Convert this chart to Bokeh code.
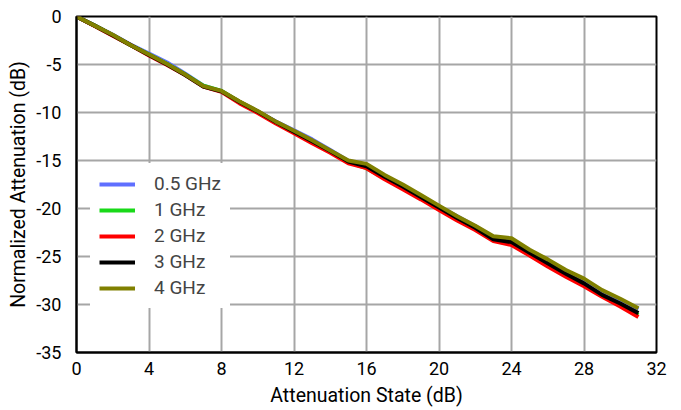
from bokeh.plotting import figure
from bokeh.models import Range1d, FixedTicker, Legend, LegendItem
from bokeh.embed import file_html
from bokeh.resources import INLINE

state = list(range(32))
series_names = ["0.5 GHz", "1 GHz", "2 GHz", "3 GHz", "4 GHz"]
x_ticks = [0, 4, 8, 12, 16, 20, 24, 28, 32]
y_ticks = [0, -5, -10, -15, -20, -25, -30, -35]

att_05 = [0, -0.95, -1.9, -2.95, -3.85, -4.8, -5.95, -7.2, -7.8, -8.9, -9.9, -10.95, -11.85, -12.8, -13.9, -15.05,
          -15.45, -16.55, -17.6, -18.7, -19.8, -20.8, -21.85, -23.0, -23.25, -24.4, -25.4, -26.5, -27.5, -28.6, -29.5, -30.5]
att_1 = [0, -0.95, -1.95, -3.0, -3.95, -4.95, -6.05, -7.2, -7.75, -8.9, -9.95, -11.05, -12.05, -13.05, -14.05, -15.2,
         -15.8, -16.85, -17.9, -18.95, -20.05, -21.1, -22.1, -23.3, -23.7, -24.85, -25.9, -27.0, -28.0, -29.1, -30.1, -31.1]
att_2 = [0, -1.0, -2.0, -3.0, -4.05, -5.05, -6.1, -7.3, -7.85, -9.05, -10.05, -11.15, -12.15, -13.2, -14.2, -15.3,
         -15.8, -16.95, -18.0, -19.05, -20.15, -21.25, -22.25, -23.4, -23.8, -24.9, -26.05, -27.1, -28.1, -29.2, -30.2, -31.3]
att_3 = [0, -0.95, -1.95, -3.0, -4.0, -5.0, -6.1, -7.3, -7.8, -8.9, -9.9, -11.0, -12.0, -13.0, -14.0, -15.1,
         -15.6, -16.7, -17.7, -18.8, -19.9, -21.0, -22.0, -23.2, -23.5, -24.6, -25.7, -26.8, -27.8, -29.0, -29.9, -30.9]
att_4 = [0, -0.95, -1.9, -3.0, -3.95, -4.95, -6.05, -7.25, -7.75, -8.85, -9.85, -10.95, -11.9, -12.9, -13.95, -15.0,
         -15.35, -16.5, -17.5, -18.6, -19.7, -20.8, -21.8, -22.9, -23.1, -24.3, -25.3, -26.4, -27.3, -28.5, -29.4, -30.4]

series = [att_05, att_1, att_2, att_3, att_4]
colors = ["#5f6fff", "#19d919", "#ff0000", "#000000", "#808000"]

FONT = "Roboto"

p = figure(width=681, height=410, output_backend="svg", toolbar_location=None,
           x_range=Range1d(0, 32), y_range=Range1d(-35, 0),
           min_border_left=76, min_border_right=25, min_border_top=16, min_border_bottom=58)

p.outline_line_color = "black"
p.outline_line_width = 2
p.background_fill_color = "white"
p.border_fill_color = "white"

for ax in (p.xaxis[0], p.yaxis[0]):
    ax.axis_line_color = "black"
    ax.axis_line_width = 2
    ax.major_tick_line_color = None
    ax.minor_tick_line_color = None
    ax.major_label_text_font = FONT
    ax.major_label_text_font_size = "18px"
    ax.major_label_text_color = "black"
    ax.axis_label_text_font = FONT
    ax.axis_label_text_font_size = "19.5px"
    ax.axis_label_text_font_style = "normal"
    ax.axis_label_text_color = "black"

p.xaxis.ticker = FixedTicker(ticks=x_ticks)
p.yaxis.ticker = FixedTicker(ticks=y_ticks)
p.yaxis.major_label_overrides = {t: str(t) for t in y_ticks}
p.xaxis.axis_label = "Attenuation State (dB)"
p.yaxis.axis_label = "Normalized Attenuation (dB)"
p.xaxis.major_label_standoff = 3
p.yaxis.major_label_standoff = 9
p.xaxis.axis_label_standoff = 6
p.yaxis.axis_label_standoff = 3

p.xgrid.ticker = FixedTicker(ticks=x_ticks)
p.ygrid.ticker = FixedTicker(ticks=y_ticks)
p.grid.grid_line_color = "#a6a6a6"
p.grid.grid_line_width = 2

items = []
for name, ys, c in zip(series_names, series, colors):
    r = p.line(state, ys, line_color=c, line_width=4)
    items.append(LegendItem(label=name, renderers=[r]))

legend = Legend(items=items, location=(14, 44), border_line_color="white",
                background_fill_color="white", background_fill_alpha=1.0,
                label_text_font=FONT, label_text_font_size="19px",
                glyph_width=36, glyph_height=20, label_standoff=19,
                spacing=3, padding=8, margin=0)
p.add_layout(legend)

open("out.html", "w").write(file_html(p, INLINE))
